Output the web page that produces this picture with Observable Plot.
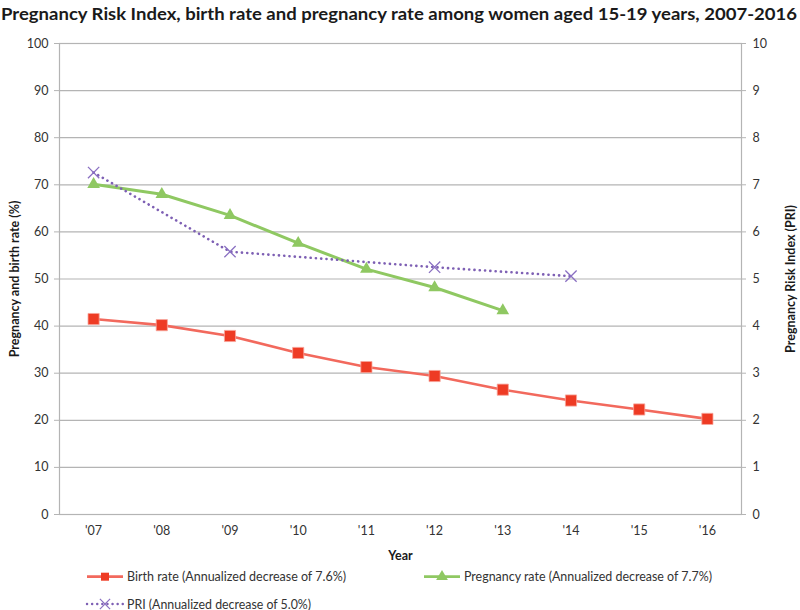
<!DOCTYPE html>
<html><head><meta charset="utf-8">
<script src="https://cdn.jsdelivr.net/npm/d3@7"></script>
<script src="https://cdn.jsdelivr.net/npm/@observablehq/plot@0.6"></script>
<style>
body{margin:0;background:#fff;overflow:hidden;font-family:Lato,sans-serif;}
svg{display:block;}
</style></head><body>
<div id="title"></div><div id="chart"></div><div id="legend"></div>
<script>
// ---- data ----
const years = [2007, 2008, 2009, 2010, 2011, 2012, 2013, 2014, 2015, 2016];
const yearLabels = ["'07", "'08", "'09", "'10", "'11", "'12", "'13", "'14", "'15", "'16"];
const birthRate = [41.5, 40.2, 37.9, 34.3, 31.3, 29.4, 26.5, 24.2, 22.3, 20.3];
const pregYears = [2007, 2008, 2009, 2010, 2011, 2012, 2013];
const pregnancyRate = [70.1, 68.0, 63.5, 57.6, 52.1, 48.2, 43.3];
const priYears = [2007, 2009, 2012, 2014];
const priValues = [7.26, 5.58, 5.25, 5.06];
const leftTicks = [0, 10, 20, 30, 40, 50, 60, 70, 80, 90, 100];
const rightTicks = [0, 1, 2, 3, 4, 5, 6, 7, 8, 9, 10];
const titleText = "Pregnancy Risk Index, birth rate and pregnancy rate among women aged 15-19 years, 2007-2016";
const leftLabel = "Pregnancy and birth rate (%)";
const rightLabel = "Pregnancy Risk Index (PRI)";
const xLabel = "Year";
const seriesNames = ["Birth rate (Annualized decrease of 7.6%)", "Pregnancy rate (Annualized decrease of 7.7%)", "PRI (Annualized decrease of 5.0%)"];

// ---- colours ----
const cBirthLine = "#f2695d", cBirthMark = "#ee3b24", cPreg = "#8fc862", cPri = "#7e60b4", cPriMark = "#8a70c2";
const cGrid = "#b4b4b4", cText = "#333333";

const birth = years.map((y, i) => ({year: y, value: birthRate[i]}));
const preg = pregYears.map((y, i) => ({year: y, value: pregnancyRate[i]}));
const pri = priYears.map((y, i) => ({year: y, value: priValues[i]}));

// ---- title ----
const tsvg = d3.select("#title").append("svg").attr("width", 800).attr("height", 26);
tsvg.append("text").attr("x", 1).attr("y", 13).attr("dominant-baseline", "central")
  .attr("font-family", "Lato, sans-serif").attr("font-weight", "bold").attr("font-size", 17.5)
  .attr("fill", "#1a1a1a").attr("textLength", 796).attr("lengthAdjust", "spacingAndGlyphs").text(titleText);

// ---- chart ----
const plot = Plot.plot({
  width: 800, height: 540,
  marginTop: 17, marginBottom: 52, marginLeft: 59, marginRight: 59,
  style: {fontFamily: "Lato, sans-serif", fontSize: "12.5px", color: cText, background: "white"},
  x: {type: "linear", domain: [2006.5, 2016.5]},
  y: {domain: [0, 100]},
  marks: [
    Plot.gridY(leftTicks, {stroke: cGrid, strokeOpacity: 1, strokeWidth: 1.2}),
    Plot.frame({stroke: cGrid, strokeWidth: 1.2}),
    Plot.axisY(leftTicks, {anchor: "left", tickSize: 5, tickPadding: 6, stroke: cGrid, strokeOpacity: 1, label: null, fill: cText}),
    Plot.axisY(leftTicks, {anchor: "right", tickSize: 4, tickPadding: 7, stroke: cGrid, strokeOpacity: 1, label: null, fill: cText,
      tickFormat: d => String(rightTicks[leftTicks.indexOf(d)])}),
    Plot.axisX(years, {tickSize: 0, tickPadding: 12, label: null, fill: cText,
      tickFormat: d => yearLabels[years.indexOf(d)]}),
    Plot.text([leftLabel], {frameAnchor: "left", textAnchor: "middle", dx: -45, rotate: -90, fontWeight: "bold", fill: "#1a1a1a", fontSize: 12.5}),
    Plot.text([rightLabel], {frameAnchor: "right", textAnchor: "middle", dx: 49, rotate: -90, fontWeight: "bold", fill: "#1a1a1a", fontSize: 12.5}),
    Plot.text([xLabel], {frameAnchor: "bottom", dy: 45, fontWeight: "bold", fill: "#1a1a1a", fontSize: 12.5}),
    Plot.line(birth, {x: "year", y: "value", stroke: cBirthLine, strokeWidth: 2.6}),
    Plot.line(preg, {x: "year", y: "value", stroke: cPreg, strokeWidth: 3}),
    Plot.line(pri, {x: "year", y: d => d.value * 10, stroke: cPri, strokeWidth: 2.6, strokeDasharray: "0.1 5.2", strokeLinecap: "round"}),
    Plot.dot(birth, {x: "year", y: "value", symbol: "square", r: 6.3, fill: cBirthMark, stroke: "#f8a69c", strokeWidth: 0.8}),
    Plot.dot(preg, {x: "year", y: "value", symbol: "triangle", r: 4.7, fill: cPreg}),
    Plot.dot(pri, {x: "year", y: d => d.value * 10, symbol: "times", r: 5.2, stroke: cPriMark, strokeWidth: 1.3})
  ]
});
document.getElementById("chart").appendChild(plot);

// ---- legend ----
const lsvg = d3.select("#legend").append("svg").attr("width", 800).attr("height", 44);
const row1 = 10.7, row2 = 38;
const items = [
  {x0: 87, y: row1, color: cBirthLine, mark: "square", name: seriesNames[0], len: 219},
  {x0: 424, y: row1, color: cPreg, mark: "triangle", name: seriesNames[1], len: 248},
  {x0: 87, y: row2, color: cPri, mark: "times", name: seriesNames[2], len: 184}
];
for (const it of items) {
  const g = lsvg.append("g");
  const ln = g.append("line").attr("x1", it.x0).attr("x2", it.x0 + 36).attr("y1", it.y).attr("y2", it.y)
    .attr("stroke", it.color).attr("stroke-width", it.mark === "times" ? 2.4 : 2.8);
  if (it.mark === "times") ln.attr("stroke-dasharray", "0.1 5").attr("stroke-linecap", "round");
  const cx = it.x0 + 18;
  if (it.mark === "square") {
    g.append("rect").attr("x", cx - 4).attr("y", it.y - 4).attr("width", 8).attr("height", 8).attr("fill", cBirthMark);
  } else if (it.mark === "triangle") {
    g.append("path").attr("d", d3.symbol(d3.symbolTriangle, 60)()).attr("transform", `translate(${cx},${it.y})`).attr("fill", cPreg);
  } else {
    g.append("path").attr("d", d3.symbol(d3.symbolTimes, 70)()).attr("transform", `translate(${cx},${it.y})`)
      .attr("fill", "none").attr("stroke", cPriMark).attr("stroke-width", 1.2);
  }
  g.append("text").attr("x", it.x0 + 40).attr("y", it.y).attr("dominant-baseline", "central")
    .attr("font-family", "Lato, sans-serif").attr("font-size", 12.5).attr("fill", cText)
    .attr("textLength", it.len).attr("lengthAdjust", "spacingAndGlyphs").text(it.name);
}
</script>
</body></html>
